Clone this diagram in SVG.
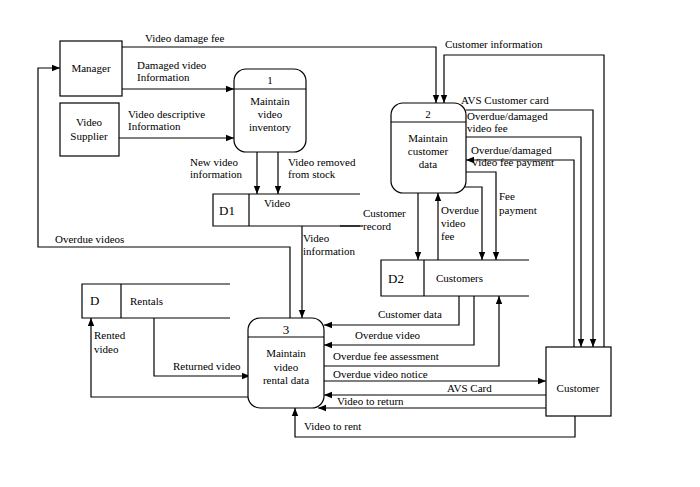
<svg xmlns="http://www.w3.org/2000/svg" width="700" height="487" viewBox="0 0 700 487" font-family="'Liberation Serif', serif">
<style>
.b{fill:#fff;stroke:#000;stroke-width:1.2}
.l{fill:none;stroke:#000;stroke-width:1.2}
text{font-family:'Liberation Serif',serif;font-size:11px;fill:#000}
.c{text-anchor:middle}
</style>
<defs><marker id="a" viewBox="0 0 10 10" refX="10" refY="5" markerWidth="7" markerHeight="7" orient="auto"><path d="M0,1L10,5L0,9z"/></marker></defs>
<rect width="700" height="487" fill="#fff"/>
<g id="connectors" class="l">
<path d="M122,47H436V103" marker-end="url(#a)"/>
<path d="M604,347V55H444V103" marker-end="url(#a)"/>
<path d="M122,89H234" marker-end="url(#a)"/>
<path d="M119,138H234" marker-end="url(#a)"/>
<path d="M257,152V194" marker-end="url(#a)"/>
<path d="M278,152V194" marker-end="url(#a)"/>
<path d="M466,110H593V347" marker-end="url(#a)"/>
<path d="M466,137H581V347" marker-end="url(#a)"/>
<path d="M574,347V160H466" marker-end="url(#a)"/>
<path d="M462,172H496V260" marker-end="url(#a)"/>
<path d="M456,187H482V260" marker-end="url(#a)"/>
<path d="M418,193V260" marker-end="url(#a)"/>
<path d="M438,260V193" marker-end="url(#a)"/>
<path d="M340,226H363"/>
<path d="M302,226V318" marker-end="url(#a)"/>
<path d="M290,318V247H38V68H60" marker-end="url(#a)"/>
<path d="M250,397H91V318" marker-end="url(#a)"/>
<path d="M154,318V376H250" marker-end="url(#a)"/>
<path d="M459,296V325H324" marker-end="url(#a)"/>
<path d="M474,296V345H324" marker-end="url(#a)"/>
<path d="M324,366H499V296" marker-end="url(#a)"/>
<path d="M324,381H546" marker-end="url(#a)"/>
<path d="M546,395H324" marker-end="url(#a)"/>
<path d="M546,408H318" marker-end="url(#a)"/>
<path d="M575,416V437H295V408" marker-end="url(#a)"/>
</g>
<g id="manager"><rect class="b" x="60" y="41" width="62" height="55"/><text class="c" x="91" y="72">Manager</text></g>
<g id="supplier"><rect class="b" x="60" y="103" width="59" height="53"/><text class="c" x="89" y="126">Video</text><text class="c" x="89" y="140">Supplier</text></g>
<g id="customer"><rect class="b" x="546" y="347" width="65" height="69"/><text class="c" x="578" y="392">Customer</text></g>
<g id="p1"><rect class="b" x="234" y="69" width="72" height="83" rx="12"/><path class="l" d="M234,89H306"/><text class="c" x="270" y="84">1</text><text class="c" x="270" y="105">Maintain</text><text class="c" x="270" y="118">video</text><text class="c" x="270" y="131">inventory</text></g>
<g id="p2"><rect class="b" x="391" y="103" width="75" height="90" rx="12"/><path class="l" d="M391,122H466"/><text class="c" x="428" y="118">2</text><text class="c" x="428" y="142">Maintain</text><text class="c" x="428" y="155">customer</text><text class="c" x="428" y="168">data</text></g>
<g id="p3"><rect class="b" x="248" y="318" width="76" height="90" rx="12"/><path class="l" d="M248,337H324"/><text class="c" x="286" y="334" style="font-size:13px">3</text><text class="c" x="286" y="357">Maintain</text><text class="c" x="286" y="371">video</text><text class="c" x="286" y="384">rental data</text></g>
<g id="d1"><path class="l" d="M360,194H213V226H360M249,194V226"/><text x="219" y="215" style="font-size:13px">D1</text><text x="264" y="207">Video</text></g>
<g id="d2"><path class="l" d="M529,260H381V296H529M424,260V296"/><text x="388" y="283" style="font-size:13px">D2</text><text x="436" y="282">Customers</text></g>
<g id="rentals"><path class="l" d="M230,284H82V318H230M121,284V318"/><text x="90" y="305" style="font-size:13px">D</text><text x="130" y="305">Rentals</text></g>
<g id="labels">
<text x="145" y="42">Video damage fee</text>
<text x="445" y="48">Customer information</text>
<text x="137" y="69">Damaged video</text><text x="137" y="81">Information</text>
<text x="128" y="118">Video descriptive</text><text x="128" y="130">Information</text>
<text x="190" y="166">New video</text><text x="190" y="178">information</text>
<text x="288" y="166">Video removed</text><text x="288" y="178">from stock</text>
<text x="461" y="104">AVS Customer card</text>
<text x="467" y="120">Overdue/damaged</text><text x="467" y="132">video fee</text>
<text x="471" y="154">Overdue/damaged</text><text x="471" y="166">Video fee payment</text>
<text x="499" y="200">Fee</text><text x="499" y="214">payment</text>
<text x="441" y="214">Overdue</text><text x="441" y="227">video</text><text x="441" y="240">fee</text>
<text x="363" y="217">Customer</text><text x="363" y="230">record</text>
<text x="303" y="242">Video</text><text x="303" y="255">information</text>
<text x="55" y="243">Overdue videos</text>
<text x="94" y="339">Rented</text><text x="94" y="353">video</text>
<text x="173" y="370">Returned video</text>
<text x="378" y="318">Customer data</text>
<text x="355" y="339">Overdue video</text>
<text x="333" y="360">Overdue fee assessment</text>
<text x="333" y="378">Overdue video notice</text>
<text x="447" y="392">AVS Card</text>
<text x="337" y="405">Video to return</text>
<text x="304" y="430">Video to rent</text>
</g>
</svg>
